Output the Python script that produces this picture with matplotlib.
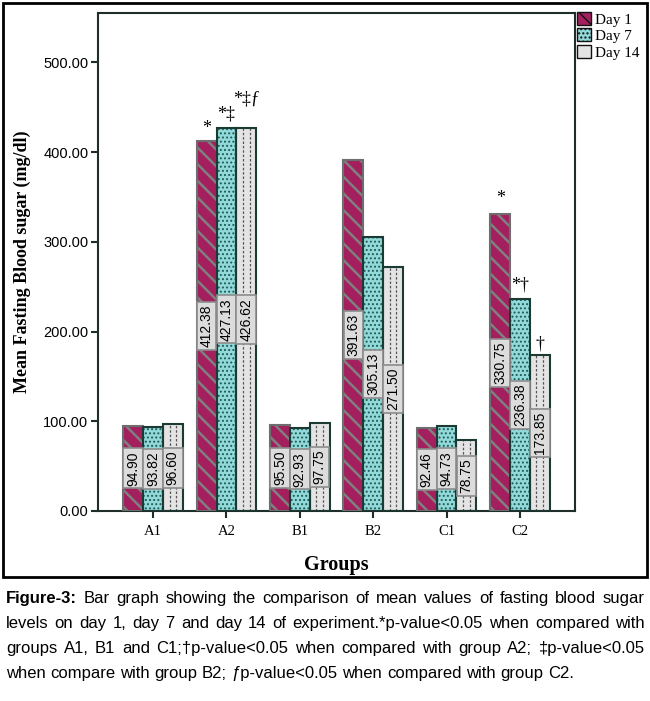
import numpy as np
import matplotlib
matplotlib.use('Agg')
import matplotlib.pyplot as plt
from matplotlib.patches import Patch, Rectangle

# data
groups = ['A1', 'A2', 'B1', 'B2', 'C1', 'C2']
day1 = [94.90, 412.38, 95.50, 391.63, 92.46, 330.75]
day7 = [93.82, 427.13, 92.93, 305.13, 94.73, 236.38]
day14 = [96.60, 426.62, 97.75, 271.50, 78.75, 173.85]
series_names = ['Day 1', 'Day 7', 'Day 14']
y_ticks = [0, 100, 200, 300, 400, 500]

# significance marks: (group, series index, mark)
marks = [('A2', 0, '*'), ('A2', 1, '*\u2021'), ('A2', 2, '*\u2021\u0192'),
         ('C2', 0, '*'), ('C2', 1, '*\u2020'), ('C2', 2, '\u2020')]
mark_lift = [1, 2, 13, 3, 2, 0]  # extra lift in points, as placed in the original

caption_lines = [
    'Figure-3: Bar graph showing the comparison of mean values of fasting blood sugar',
    'levels on day 1, day 7 and day 14 of experiment.*p-value<0.05 when compared with',
    'groups A1, B1 and C1;\u2020p-value<0.05 when compared with group A2; \u2021p-value<0.05',
    'when compare with group B2; \u0192p-value<0.05 when compared with group C2.',
]

# styles
faces = ['#A31F5E', '#92D9D9', '#E4E4E4']
hatch_cols = ['#808080', '#1F5A55', '#E4E4E4']
edges = ['#6E6E6E', '#1C3A34', '#1C3A34']
hatches = ['\\\\', '....', None]
hatch_lw = [1.8, 0.9, 1.0]
serif = ['Liberation Serif', 'DejaVu Serif']
sans = ['Liberation Sans', 'DejaVu Sans']
cap_font = ['Liberation Sans', 'DejaVu Sans']

W, H = 650, 701
fig = plt.figure(figsize=(W / 100, H / 100), dpi=100)
ax = fig.add_axes([98 / W, 1 - 511 / H, (575 - 98) / W, (511 - 13) / H])

values = [day1, day7, day14]
bw = 0.27
offsets = [-bw, 0, bw]
xs = np.arange(len(groups))
for i, vals in enumerate(values):
    x = xs + offsets[i]
    with plt.rc_context({'hatch.linewidth': hatch_lw[i]}):
        bars = ax.bar(x, vals, width=bw, color=faces[i], edgecolor=hatch_cols[i],
                      hatch=hatches[i], linewidth=0, zorder=2)
    if i == 2:
        for r in bars:
            x0, w, h = r.get_x(), r.get_width(), r.get_height()
            ax.vlines([x0 + w / 3, x0 + 2 * w / 3], 0, h, colors='#555555',
                      linestyles=(0, (2, 1.5)), linewidth=0.9, zorder=3)
    ax.bar(x, vals, width=bw, fill=False, edgecolor=edges[i], linewidth=1.5, zorder=4)

# value labels in the middle of every bar
for i, vals in enumerate(values):
    for xi, v in zip(xs + offsets[i], vals):
        ax.text(xi, v / 2, f'{v:.2f}', rotation=90, ha='center', va='center',
                fontsize=10, family=sans, zorder=6,
                bbox=dict(boxstyle='square,pad=0.2', fc='#DCDCDC', ec='#8C8C8C', lw=1.2))

# significance marks above bars
for (g, si, m), lift in zip(marks, mark_lift):
    gi = groups.index(g)
    v = values[si][gi]
    ax.annotate(m, (gi + offsets[si], v), xytext=(0, 2 + lift), textcoords='offset points',
                ha='center', va='bottom', fontsize=13, family=serif, zorder=6)

ax.set_xlim(-0.75, 5.75)
ax.set_ylim(0, 555)
ax.set_xticks(xs)
ax.set_xticklabels(groups, family=serif, fontsize=10.5)
ax.set_yticks(y_ticks)
ax.set_yticklabels([f'{t:.2f}' for t in y_ticks], family=sans, fontsize=10.5)
ax.tick_params(direction='out', length=5, width=1.5, color='#1E2E2A', pad=2)
ax.tick_params(axis='x', pad=5)
for s in ax.spines.values():
    s.set_linewidth(1.5)
    s.set_color('#1E2E2A')

ax.set_xlabel('Groups', family=serif, fontsize=14.5, fontweight='bold', labelpad=12)
ax.set_ylabel('Mean Fasting Blood sugar (mg/dl)', family=serif, fontsize=13,
              fontweight='bold', labelpad=9)

handles = []
for i in range(3):
    with plt.rc_context({'hatch.linewidth': hatch_lw[i]}):
        handles.append(Patch(facecolor=faces[i], edgecolor='#111111', hatch=hatches[i], lw=1))
fig.legend(handles, series_names, loc='upper left', bbox_to_anchor=(577 / W, 1 - 12 / H),
           frameon=False, borderpad=0, borderaxespad=0, handlelength=0.9,
           handleheight=0.9, handletextpad=0.25, labelspacing=0.12,
           prop={'family': serif, 'size': 11})

# outer frame round the chart
fig.patches.append(Rectangle((3 / W, 1 - 577 / H), 644 / W, 574 / H,
                             transform=fig.transFigure, fill=False, ec='black', lw=2))

# justified caption
fig.canvas.draw()
rend = fig.canvas.get_renderer()
left, right = 6, 645
cap_size = 12
t1 = fig.text(0, 0, 'a a', fontsize=cap_size, family=cap_font)
t2 = fig.text(0, 0, 'aa', fontsize=cap_size, family=cap_font)
space = t1.get_window_extent(rend).width - t2.get_window_extent(rend).width
t1.remove()
t2.remove()
for li, line in enumerate(caption_lines):
    y = 1 - (603 + 25 * li) / H
    words = line.split(' ')
    texts = []
    for j, wd in enumerate(words):
        weight = 'bold' if (li == 0 and j == 0) else 'normal'
        texts.append(fig.text(0, y, wd, fontsize=cap_size, family=cap_font,
                              weight=weight, va='baseline'))
    widths = [t.get_window_extent(rend).width for t in texts]
    if li < len(caption_lines) - 1:
        gap = (right - left - sum(widths)) / (len(words) - 1)
    else:
        gap = space
    xp = left
    for t, wdt in zip(texts, widths):
        t.set_x(xp / W)
        xp += wdt + gap

fig.savefig('out.png', dpi=100)
